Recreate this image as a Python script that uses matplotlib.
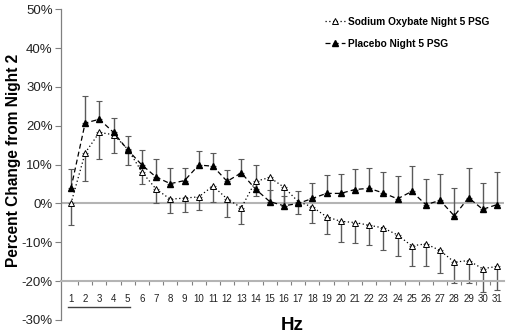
import numpy as np
import matplotlib
matplotlib.use("Agg")
import matplotlib.pyplot as plt
from matplotlib import font_manager

# Frequency bins and percent change from night 2
hz = np.arange(1, 32)
sodium = [0.0, 13.0, 18.3, 17.7, 14.0, 8.1, 3.7, 1.1, 1.4, 1.7, 4.5, 1.2, -1.1, 5.7, 6.7, 4.2,
          0.5, -0.9, -3.4, -4.6, -4.9, -5.6, -6.3, -8.1, -10.9, -10.4, -12.1, -15.1, -14.7, -16.8, -16.2]
sodium_err = [5.5, 7.3, 6.8, 4.8, 4.1, 3.2, 3.7, 3.6, 3.5, 3.3, 4.1, 4.7, 4.1, 3.8, 6.2, 4.8,
              3.3, 4.2, 4.4, 5.2, 5.3, 5.2, 5.6, 5.5, 5.3, 5.6, 5.8, 5.3, 5.7, 6.0, 6.2]
placebo = [3.9, 20.7, 21.7, 18.3, 13.8, 9.9, 6.8, 5.1, 5.9, 9.9, 9.6, 5.7, 7.9, 3.7, 0.5, -0.6,
           0.0, 1.3, 2.6, 2.6, 3.6, 3.9, 2.7, 1.2, 3.1, -0.3, 0.8, -3.2, 1.5, -1.5, -0.3]
placebo_err = [5.0, 7.1, 4.6, 3.7, 3.6, 3.9, 4.7, 4.1, 3.3, 3.7, 3.5, 3.0, 3.6, 6.1, 3.0, 2.5,
               3.3, 4.1, 4.8, 4.9, 5.3, 5.2, 5.4, 5.8, 6.5, 6.7, 6.7, 7.2, 7.7, 6.8, 8.3]
yticks = np.arange(-30, 51, 10)
delta_band = (0.8, 5.15)   # underline below the 1-5 Hz labels

names = {f.name for f in font_manager.fontManager.ttflist}
plt.rcParams['font.family'] = ['Liberation Sans', 'DejaVu Sans']
narrow = 'Liberation Sans Narrow' if 'Liberation Sans Narrow' in names else 'Liberation Sans'
narrow_size = 8 if narrow == 'Liberation Sans Narrow' else 7

fig = plt.figure(figsize=(5.09, 3.34), dpi=100)
ax = fig.add_axes([61 / 509, 1 - 320 / 334, (504 - 61) / 509, (320 - 9.3) / 334])

ax.axhline(0, color='#b4b4b4', lw=1.5, zorder=1)

ax.errorbar(hz, sodium, yerr=[sodium_err, np.zeros(len(hz))], fmt='none',
            ecolor='#5a5a5a', elinewidth=1.0, capsize=2.2, capthick=0.8, zorder=2)
ax.errorbar(hz, placebo, yerr=[np.zeros(len(hz)), placebo_err], fmt='none',
            ecolor='#5a5a5a', elinewidth=1.0, capsize=2.2, capthick=0.8, zorder=2)

ax.plot(hz, sodium, linestyle=(0, (1, 2)), color='black', lw=0.9, marker='^',
        markersize=4.2, markerfacecolor='white', markeredgecolor='black', markeredgewidth=0.7,
        label='Sodium Oxybate Night 5 PSG', zorder=3)
ax.plot(hz, placebo, linestyle=(0, (4, 2.5)), color='black', lw=0.9, marker='^',
        markersize=4.2, markerfacecolor='black', markeredgecolor='black',
        label='Placebo Night 5 PSG', zorder=4)

ax.set_xlim(0.3, 31.5)
ax.set_ylim(-30, 50)

for side in ['top', 'right']:
    ax.spines[side].set_visible(False)
ax.spines['left'].set_color('#808080')
ax.spines['left'].set_linewidth(0.9)
ax.spines['bottom'].set_position(('data', -20))
ax.spines['bottom'].set_color('#b4b4b4')
ax.spines['bottom'].set_linewidth(1.5)

ax.set_yticks(yticks)
ax.set_yticklabels([f'{v}%' for v in yticks], fontsize=9.5, color='#222222')
ax.tick_params(axis='y', direction='out', length=4, width=0.8, color='#808080', pad=2)

ax.set_xticks(hz)
ax.set_xticklabels([str(h) for h in hz], fontsize=narrow_size, family=narrow, color='#222222')
ax.set_xticks(np.arange(1.5, 31.5, 1), minor=True)
ax.tick_params(axis='x', which='major', length=0, pad=9)
ax.tick_params(axis='x', which='minor', direction='out', length=3, width=0.8, color='#808080')

ax.plot(delta_band, [-26.7, -26.7], color='#404040', lw=1.0, clip_on=False)

ax.set_ylabel('Percent Change from Night 2', fontsize=11.2, fontweight='bold')
ax.yaxis.set_label_coords(-0.09, 0.515)
fig.text(291.7 / 509, 1 - 326 / 334, 'Hz', fontsize=13.5, fontweight='bold',
         ha='center', va='center')

ax.legend(loc='upper left', bbox_to_anchor=(325 / 509, 1 - 17 / 334),
          bbox_transform=fig.transFigure, frameon=False,
          prop={'weight': 'bold', 'size': 7.3}, handlelength=2.0, handletextpad=0.3,
          labelspacing=1.15, borderpad=0, borderaxespad=0)

fig.savefig('out.png', dpi=100)
